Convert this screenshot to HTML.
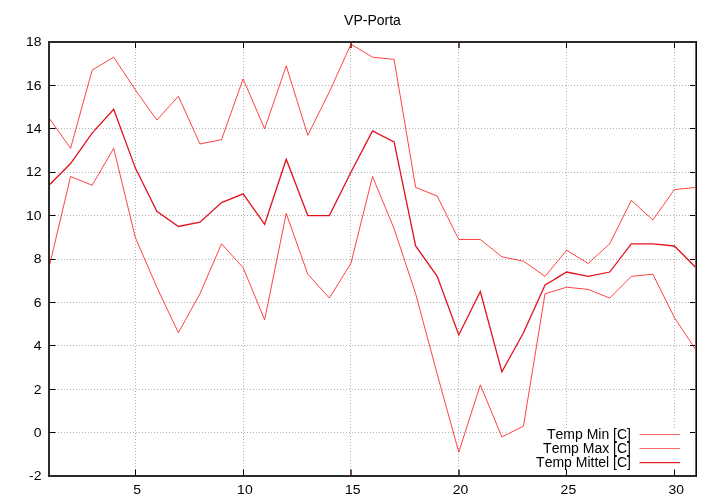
<!DOCTYPE html>
<html><head><meta charset="utf-8"><title>VP-Porta</title>
<style>
html,body{margin:0;padding:0;background:#fff;width:720px;height:504px;overflow:hidden}
svg{display:block}
text{font-family:"Liberation Sans",Arial,sans-serif;font-size:14px;fill:#000;font-kerning:none}
</style></head><body>
<svg width="720" height="504" viewBox="0 0 720 504">
<defs><filter id="nolcd"><feOffset dx="0" dy="0"/></filter></defs>
<rect x="0" y="0" width="720" height="504" fill="#fff"/>
<g stroke="#b2b2b2" stroke-width="1" stroke-dasharray="1 2" fill="none"><line x1="49" y1="432.5" x2="506" y2="432.5"/><line x1="49" y1="389.5" x2="695" y2="389.5"/><line x1="49" y1="345.5" x2="695" y2="345.5"/><line x1="49" y1="302.5" x2="695" y2="302.5"/><line x1="49" y1="259.5" x2="695" y2="259.5"/><line x1="49" y1="215.5" x2="695" y2="215.5"/><line x1="49" y1="172.5" x2="695" y2="172.5"/><line x1="49" y1="128.5" x2="695" y2="128.5"/><line x1="49" y1="85.5" x2="695" y2="85.5"/><line x1="135.5" y1="476" x2="135.5" y2="43"/><line x1="243.5" y1="476" x2="243.5" y2="43"/><line x1="350.5" y1="476" x2="350.5" y2="43"/><line x1="458.5" y1="476" x2="458.5" y2="43"/><line x1="566.5" y1="428" x2="566.5" y2="43"/><line x1="674.5" y1="428" x2="674.5" y2="43"/></g>
<g stroke="#000" stroke-width="1"><line x1="50" y1="476.5" x2="55.4" y2="476.5"/><line x1="690" y1="476.5" x2="695" y2="476.5"/><line x1="50" y1="432.5" x2="55.4" y2="432.5"/><line x1="690" y1="432.5" x2="695" y2="432.5"/><line x1="50" y1="389.5" x2="55.4" y2="389.5"/><line x1="690" y1="389.5" x2="695" y2="389.5"/><line x1="50" y1="345.5" x2="55.4" y2="345.5"/><line x1="690" y1="345.5" x2="695" y2="345.5"/><line x1="50" y1="302.5" x2="55.4" y2="302.5"/><line x1="690" y1="302.5" x2="695" y2="302.5"/><line x1="50" y1="259.5" x2="55.4" y2="259.5"/><line x1="690" y1="259.5" x2="695" y2="259.5"/><line x1="50" y1="215.5" x2="55.4" y2="215.5"/><line x1="690" y1="215.5" x2="695" y2="215.5"/><line x1="50" y1="172.5" x2="55.4" y2="172.5"/><line x1="690" y1="172.5" x2="695" y2="172.5"/><line x1="50" y1="128.5" x2="55.4" y2="128.5"/><line x1="690" y1="128.5" x2="695" y2="128.5"/><line x1="50" y1="85.5" x2="55.4" y2="85.5"/><line x1="690" y1="85.5" x2="695" y2="85.5"/><line x1="50" y1="42.5" x2="55.4" y2="42.5"/><line x1="690" y1="42.5" x2="695" y2="42.5"/><line x1="135.5" y1="43" x2="135.5" y2="48"/><line x1="135.5" y1="469.5" x2="135.5" y2="475"/><line x1="243.5" y1="43" x2="243.5" y2="48"/><line x1="243.5" y1="469.5" x2="243.5" y2="475"/><line x1="351.0" y1="43" x2="351.0" y2="48" stroke="#6e4a4a" stroke-width="2"/><line x1="351.0" y1="469.5" x2="351.0" y2="475" stroke="#6e4a4a" stroke-width="2"/><line x1="459.0" y1="43" x2="459.0" y2="48" stroke="#6e4a4a" stroke-width="2"/><line x1="459.0" y1="469.5" x2="459.0" y2="475" stroke="#6e4a4a" stroke-width="2"/><line x1="566.5" y1="43" x2="566.5" y2="48"/><line x1="566.5" y1="469.5" x2="566.5" y2="475"/><line x1="674.5" y1="43" x2="674.5" y2="48"/><line x1="674.5" y1="469.5" x2="674.5" y2="475"/></g>
<g filter="url(#nolcd)"><g transform="translate(41.5,480) scale(1,0.93)"><text x="0" y="0" text-anchor="end">-2</text></g><g transform="translate(41.5,437) scale(1,0.93)"><text x="0" y="0" text-anchor="end">0</text></g><g transform="translate(41.5,394) scale(1,0.93)"><text x="0" y="0" text-anchor="end">2</text></g><g transform="translate(41.5,350) scale(1,0.93)"><text x="0" y="0" text-anchor="end">4</text></g><g transform="translate(41.5,307) scale(1,0.93)"><text x="0" y="0" text-anchor="end">6</text></g><g transform="translate(41.5,263) scale(1,0.93)"><text x="0" y="0" text-anchor="end">8</text></g><g transform="translate(41.5,220) scale(1,0.93)"><text x="0" y="0" text-anchor="end">10</text></g><g transform="translate(41.5,176) scale(1,0.93)"><text x="0" y="0" text-anchor="end">12</text></g><g transform="translate(41.5,133) scale(1,0.93)"><text x="0" y="0" text-anchor="end">14</text></g><g transform="translate(41.5,90) scale(1,0.93)"><text x="0" y="0" text-anchor="end">16</text></g><g transform="translate(41.5,46) scale(1,0.93)"><text x="0" y="0" text-anchor="end">18</text></g><g transform="translate(137.1,494) scale(1,0.93)"><text x="0" y="0" text-anchor="middle">5</text></g><g transform="translate(244.9,494) scale(1,0.93)"><text x="0" y="0" text-anchor="middle">10</text></g><g transform="translate(352.7,494) scale(1,0.93)"><text x="0" y="0" text-anchor="middle">15</text></g><g transform="translate(460.6,494) scale(1,0.93)"><text x="0" y="0" text-anchor="middle">20</text></g><g transform="translate(568.4,494) scale(1,0.93)"><text x="0" y="0" text-anchor="middle">25</text></g><g transform="translate(676.2,494) scale(1,0.93)"><text x="0" y="0" text-anchor="middle">30</text></g><text x="372.5" y="25" text-anchor="middle">VP-Porta</text></g>
<g fill="none" stroke-linejoin="miter"><polyline stroke="#f00" stroke-opacity="0.74" stroke-width="1" points="49.00,267.68 70.57,176.54 92.13,185.22 113.70,148.33 135.27,237.30 156.83,287.21 178.40,332.78 199.97,293.72 221.53,243.81 243.10,267.68 264.67,319.76 286.23,213.43 307.80,274.19 329.37,298.06 350.93,263.34 372.50,176.54 394.07,228.62 415.63,293.72 437.20,374.01 458.77,452.13 480.33,384.86 501.90,436.94 523.47,426.09 545.03,293.72 566.60,287.21 588.17,289.38 609.73,298.06 631.30,276.36 652.87,274.19 674.43,317.59 696.00,350.14"/><polyline stroke="#f00" stroke-opacity="0.74" stroke-width="1" points="49.00,117.95 70.57,148.33 92.13,70.21 113.70,57.19 135.27,89.74 156.83,120.12 178.40,96.25 199.97,143.99 221.53,139.65 243.10,78.89 264.67,128.80 286.23,65.87 307.80,135.31 329.37,91.91 350.93,44.17 372.50,57.19 394.07,59.36 415.63,187.39 437.20,196.07 458.77,239.47 480.33,239.47 501.90,256.83 523.47,261.17 545.03,276.36 566.60,250.32 588.17,263.34 609.73,243.81 631.30,200.41 652.87,219.94 674.43,189.56 696.00,187.39"/><polyline stroke="#e2121c" stroke-width="1.3" points="49.00,185.22 70.57,163.52 92.13,133.14 113.70,109.27 135.27,167.86 156.83,211.26 178.40,226.45 199.97,222.11 221.53,202.58 243.10,193.90 264.67,224.28 286.23,159.18 307.80,215.60 329.37,215.60 350.93,172.20 372.50,130.97 394.07,141.82 415.63,245.98 437.20,276.36 458.77,334.95 480.33,291.55 501.90,371.84 523.47,332.78 545.03,285.04 566.60,272.02 588.17,276.36 609.73,272.02 631.30,243.81 652.87,243.81 674.43,245.98 696.00,267.68"/></g>
<g shape-rendering="crispEdges"><rect x="48" y="41" width="2" height="436" fill="#2e2e2e"/><rect x="695" y="43" width="1" height="432" fill="#7a5a5a"/><rect x="48" y="41" width="649" height="2" fill="#2a2a2a"/><rect x="48" y="475" width="649" height="2" fill="#2a2a2a"/><rect x="696" y="41" width="1" height="436" fill="#0c0c0c"/></g>
<g filter="url(#nolcd)"><text x="631" y="439" text-anchor="end">Temp Min [C]</text><text x="631" y="453" text-anchor="end">Temp Max [C]</text><text x="631" y="467" text-anchor="end">Temp Mittel [C]</text></g>
<line x1="639.5" y1="434.5" x2="680" y2="434.5" stroke="#f00" stroke-opacity="0.58" stroke-width="1"/><line x1="639.5" y1="448.5" x2="680" y2="448.5" stroke="#f00" stroke-opacity="0.58" stroke-width="1"/><line x1="639.5" y1="462.7" x2="680" y2="462.7" stroke="#e42828" stroke-width="1.3"/>
</svg>
</body></html>
